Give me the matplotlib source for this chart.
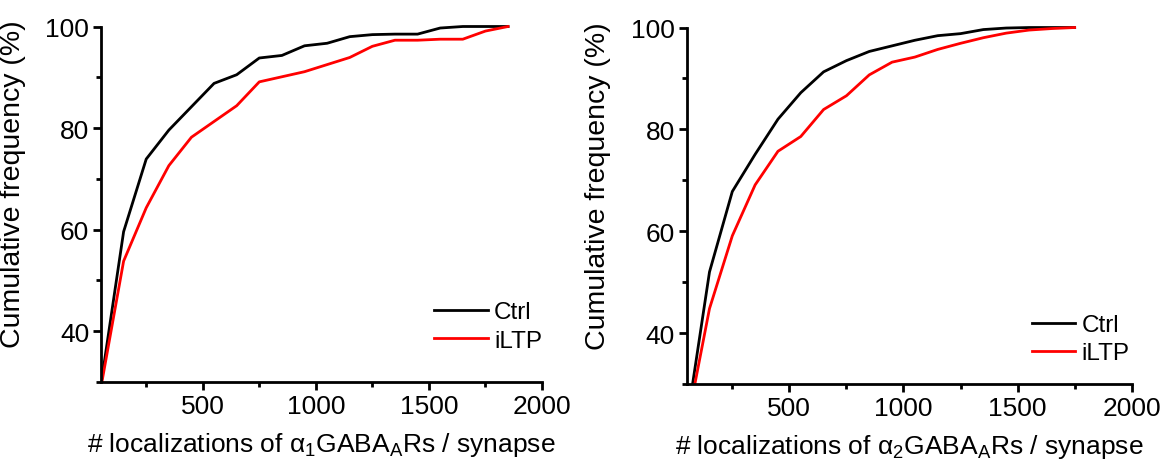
import matplotlib as mpl
mpl.use("Agg")
import matplotlib.pyplot as plt
from matplotlib.ticker import MultipleLocator

plt.rcParams["font.family"] = ["Liberation Sans", "DejaVu Sans"]
plt.rcParams["mathtext.fontset"] = "custom"
plt.rcParams["mathtext.rm"] = "Liberation Sans"
plt.rcParams["mathtext.it"] = "Liberation Sans:italic"
plt.rcParams["mathtext.default"] = "regular"

# bin centres (# localizations per synapse)
x_a1 = [50, 150, 250, 350, 450, 550, 650, 750, 850, 950, 1050, 1150, 1250,
        1350, 1450, 1550, 1650, 1750, 1850]
ctrl_a1 = [29.5, 59.6, 73.9, 79.6, 84.2, 88.8, 90.5, 93.8, 94.3, 96.2, 96.7,
           98.0, 98.4, 98.5, 98.5, 99.7, 100, 100, 100]
iltp_a1 = [29.0, 53.8, 64.3, 72.6, 78.2, 81.3, 84.4, 89.1, 90.1, 91.1, 92.5,
           93.9, 96.1, 97.3, 97.3, 97.5, 97.5, 99.1, 100]

x_a2 = [50, 150, 250, 350, 450, 550, 650, 750, 850, 950, 1050, 1150, 1250,
        1350, 1450, 1550, 1650, 1750]
ctrl_a2 = [22.3, 52.0, 67.8, 75.1, 82.0, 87.2, 91.3, 93.5, 95.3, 96.4, 97.5,
           98.4, 98.8, 99.6, 99.9, 100, 100, 100]
iltp_a2 = [21.7, 44.8, 59.1, 69.1, 75.7, 78.6, 83.9, 86.6, 90.7, 93.2, 94.2,
           95.7, 96.9, 98.0, 98.9, 99.5, 99.8, 100]

xlabels = [r"# localizations of $\alpha_1$GABA$_A$Rs / synapse",
           r"# localizations of $\alpha_2$GABA$_A$Rs / synapse"]

fig = plt.figure(figsize=(11.69, 4.64), dpi=100)
ax1 = fig.add_axes([0.0864, 0.1746, 0.3772, 0.7716])
ax2 = fig.add_axes([0.5874, 0.1703, 0.3807, 0.7737])

# axes, x, ctrl, iltp, xlabel, legend anchor, legend handle length
panels = [(ax1, x_a1, ctrl_a1, iltp_a1, xlabels[0], (1.0, 0.085), 2.2),
          (ax2, x_a2, ctrl_a2, iltp_a2, xlabels[1], (0.995, 0.055), 1.8)]

for ax, x, ctrl, iltp, xlab, anchor, hlen in panels:
    ax.plot(x, ctrl, color="black", lw=2.0, label="Ctrl")
    ax.plot(x, iltp, color="#ff0000", lw=2.0, label="iLTP")
    ax.set_xlim(50, 2000)
    ax.set_ylim(30, 100.5)
    ax.spines["left"].set_bounds(30, 100)
    for s in ("top", "right"):
        ax.spines[s].set_visible(False)
    for s in ("left", "bottom"):
        ax.spines[s].set_linewidth(2.0)
    ax.xaxis.set_major_locator(MultipleLocator(500))
    ax.xaxis.set_minor_locator(MultipleLocator(250))
    ax.yaxis.set_major_locator(MultipleLocator(20))
    ax.yaxis.set_minor_locator(MultipleLocator(10))
    ax.tick_params(which="major", direction="out", length=5.5, width=2.0,
                   labelsize=19, pad=3)
    ax.tick_params(which="minor", direction="out", length=3.5, width=2.0)
    ax.set_ylabel("Cumulative frequency (%)", fontsize=20.5)
    ax.yaxis.set_label_coords(-0.17, 0.555)
    ax.set_xlabel(xlab, fontsize=19, labelpad=9)
    ax.legend(loc="lower right", bbox_to_anchor=anchor, frameon=False,
              fontsize=17.5, handlelength=hlen, handletextpad=0.25,
              labelspacing=0.25, borderpad=0, borderaxespad=0)

fig.savefig("out.png", dpi=100)
